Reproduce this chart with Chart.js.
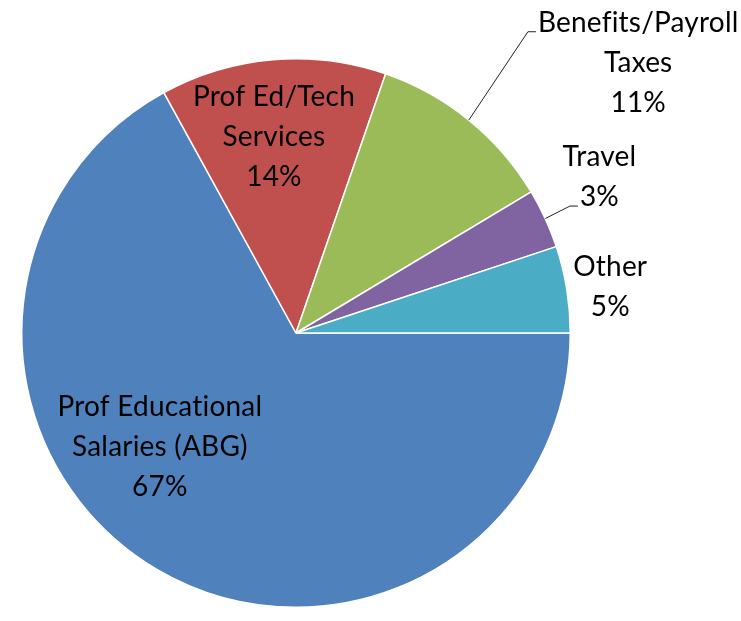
<!DOCTYPE html>
<html>
<head>
<meta charset="utf-8">
<script src="https://cdn.jsdelivr.net/npm/chart.js@4.4.1/dist/chart.umd.min.js"></script>
<style>
  html, body { margin: 0; padding: 0; background: #fff; }
  canvas { display: block; }
</style>
</head>
<body>
<canvas id="pie" width="741" height="621"></canvas>
<script>
// categories / values (clockwise from 3 o'clock)
const categories = [
  ['Prof Educational', 'Salaries (ABG)'],
  ['Prof Ed/Tech', 'Services'],
  ['Benefits/Payroll', 'Taxes'],
  ['Travel'],
  ['Other']
];
const shares = [67.0, 13.3, 11.1, 3.5, 5.1];
const percentText = ['67%', '14%', '11%', '3%', '5%'];
const colors = ['#4F81BD', '#C0504D', '#9BBB59', '#8064A2', '#4BACC6'];

// where each label sits: angle (deg, screen) and distance as a fraction of the radius
const labelSpots = [
  { angle: 140.0, dist: 0.648, leader: false },
  { angle: -96.4, dist: 0.72, leader: false },
  { angle: -38.3, dist: 1.59, leader: true, leaderLine: 0 },
  { angle: -27.2, dist: 1.244, leader: true, leaderLine: 1 },
  { angle: -8.3, dist: 1.158, leader: false }
];

const FONT = '28px Lato, "Open Sans", sans-serif';
const LINE_H = 40;

const pieLabels = {
  id: 'pieLabels',
  afterDatasetsDraw(chart) {
    const ctx = chart.ctx;
    const arcs = chart.getDatasetMeta(0).data;
    ctx.save();
    ctx.font = FONT;
    // tiny spacing so the browser drops the fi / ti ligatures
    ctx.letterSpacing = '0.2px';
    ctx.fillStyle = '#000';
    ctx.textAlign = 'center';
    ctx.textBaseline = 'middle';
    arcs.forEach((arc, i) => {
      const p = arc.getProps(['x', 'y', 'startAngle', 'endAngle', 'outerRadius'], true);
      const spot = labelSpots[i];
      const a = spot.angle * Math.PI / 180;
      const cx = p.x + Math.cos(a) * spot.dist * p.outerRadius;
      const cy = p.y + Math.sin(a) * spot.dist * p.outerRadius;
      const lines = categories[i].concat([percentText[i]]);
      const top = cy - (lines.length - 1) * LINE_H / 2;
      lines.forEach((t, k) => ctx.fillText(t, cx, top + k * LINE_H));

      if (spot.leader) {
        const mid = (p.startAngle + p.endAngle) / 2;
        const sx = p.x + Math.cos(mid) * p.outerRadius;
        const sy = p.y + Math.sin(mid) * p.outerRadius;
        const t = lines[spot.leaderLine];
        const ex = cx - ctx.measureText(t).width / 2 - 2;
        const ey = top + spot.leaderLine * LINE_H + 9;
        ctx.beginPath();
        ctx.strokeStyle = '#222';
        ctx.lineWidth = 1;
        ctx.moveTo(sx, sy);
        ctx.lineTo(ex - 8, ey);
        ctx.lineTo(ex, ey);
        ctx.stroke();
      }
    });
    ctx.restore();
  }
};

new Chart(document.getElementById('pie'), {
  type: 'pie',
  data: {
    labels: categories.map(c => c.join(' ')),
    datasets: [{
      data: shares,
      backgroundColor: colors,
      borderColor: '#fff',
      borderWidth: 1.5,
      hoverOffset: 0
    }]
  },
  options: {
    responsive: false,
    animation: false,
    rotation: 90,
    layout: { padding: { top: 58, bottom: 13, left: 21, right: 170 } },
    plugins: {
      legend: { display: false },
      tooltip: { enabled: false }
    }
  },
  plugins: [pieLabels]
});
</script>
</body>
</html>
